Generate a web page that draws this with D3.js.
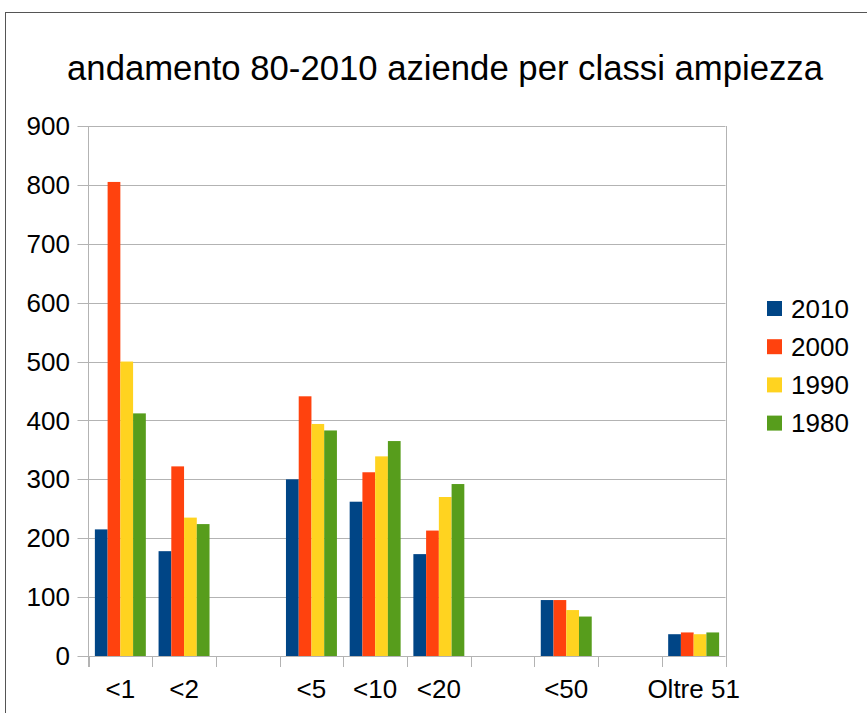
<!DOCTYPE html>
<meta charset="utf-8">
<head>
<script src="https://d3js.org/d3.v7.min.js"></script>
<style>
body { margin: 0; background: #fff; }
text { font-family: "Liberation Sans", Arial, sans-serif; fill: #000; }
</style>
</head>
<body>
<svg id="chart"></svg>
<script>
// classes of farm size, blanks are empty slots on the axis
var categories = ["<1", "<2", "", "<5", "<10", "<20", "", "<50", "", "Oltre 51"];
var years = ["2010", "2000", "1990", "1980"];
var v2010 = [215, 178, null, 300, 262, 173, null, 95, null, 37];
var v2000 = [805, 322, null, 441, 312, 213, null, 95, null, 40];
var v1990 = [500, 235, null, 394, 339, 270, null, 78, null, 37];
var v1980 = [412, 224, null, 383, 365, 292, null, 67, null, 40];
var yTicks = [0, 100, 200, 300, 400, 500, 600, 700, 800, 900];
var colors = ["#004586", "#ff420e", "#ffd320", "#579d1c"];

var series = [v2010, v2000, v1990, v1980];

var width = 867, height = 713;
var svg = d3.select("#chart").attr("width", width).attr("height", height);

// outer frame
svg.append("rect")
   .attr("x", 5.5).attr("y", 12.5)
   .attr("width", 900).attr("height", 800)
   .attr("fill", "none").attr("stroke", "#555").attr("stroke-width", 1);

svg.append("text")
   .attr("x", 445).attr("y", 80)
   .attr("text-anchor", "middle")
   .style("font-size", "34.7px")
   .text("andamento 80-2010 aziende per classi ampiezza");

var plotLeft = 88.5, plotRight = 725.5, plotTop = 126, plotBottom = 656;

var x = d3.scaleBand()
          .domain(d3.range(categories.length))
          .range([plotLeft, plotRight])
          .paddingInner(0.2)
          .paddingOuter(0.1);
var x1 = d3.scaleBand().domain(d3.range(years.length)).range([0, x.bandwidth()]);
var y = d3.scaleLinear().domain([0, 900]).range([plotBottom, plotTop]);

// gridlines
svg.append("g").selectAll("line")
   .data(yTicks)
   .enter().append("line")
   .attr("x1", plotLeft - 11).attr("x2", plotRight)
   .attr("y1", function(d) { return Math.round(y(d)) + 0.5; })
   .attr("y2", function(d) { return Math.round(y(d)) + 0.5; })
   .attr("stroke", "#b3b3b3").attr("stroke-width", 1);

// y tick labels
svg.append("g").selectAll("text")
   .data(yTicks)
   .enter().append("text")
   .attr("x", 70)
   .attr("y", function(d) { return y(d); })
   .attr("dy", "0.35em")
   .attr("text-anchor", "end")
   .style("font-size", "26px")
   .text(function(d) { return d; });

// bars
var groups = svg.append("g").selectAll("g")
   .data(series)
   .enter().append("g")
   .attr("fill", function(d, i) { return colors[i]; });

groups.each(function(vals, si) {
    d3.select(this).selectAll("rect")
      .data(vals.map(function(v, ci) { return {v: v, ci: ci}; }).filter(function(d) { return d.v !== null; }))
      .enter().append("rect")
      .attr("x", function(d) { return x(d.ci) + x1(si); })
      .attr("width", x1.bandwidth())
      .attr("y", function(d) { return y(d.v); })
      .attr("height", function(d) { return y(0) - y(d.v); });
});

// axis lines and slot ticks
var bounds = d3.range(categories.length + 1).map(function(i) { return x.range()[0] + i * x.step(); });
svg.append("line")
   .attr("x1", plotLeft).attr("x2", plotLeft).attr("y1", plotTop).attr("y2", plotBottom + 11)
   .attr("stroke", "#b3b3b3");
svg.append("g").selectAll("line")
   .data(bounds)
   .enter().append("line")
   .attr("x1", function(d) { return Math.round(d) + 0.5; })
   .attr("x2", function(d) { return Math.round(d) + 0.5; })
   .attr("y1", function(d, i) { return i === bounds.length - 1 ? plotTop : plotBottom; })
   .attr("y2", plotBottom + 11)
   .attr("stroke", "#b3b3b3");

// x labels
svg.append("g").selectAll("text")
   .data(categories)
   .enter().append("text")
   .attr("x", function(d, i) { return x(i) + x.bandwidth() / 2; })
   .attr("y", 698)
   .attr("text-anchor", "middle")
   .style("font-size", "26px")
   .text(function(d) { return d; });

// legend
var legend = svg.append("g").selectAll("g")
   .data(years)
   .enter().append("g")
   .attr("transform", function(d, i) { return "translate(767," + (301 + i * 38.2) + ")"; });
legend.append("rect")
   .attr("width", 15).attr("height", 15)
   .attr("fill", function(d, i) { return colors[i]; });
legend.append("text")
   .attr("x", 24).attr("y", 16.5)
   .style("font-size", "26px")
   .text(function(d) { return d; });
</script>
</body>
